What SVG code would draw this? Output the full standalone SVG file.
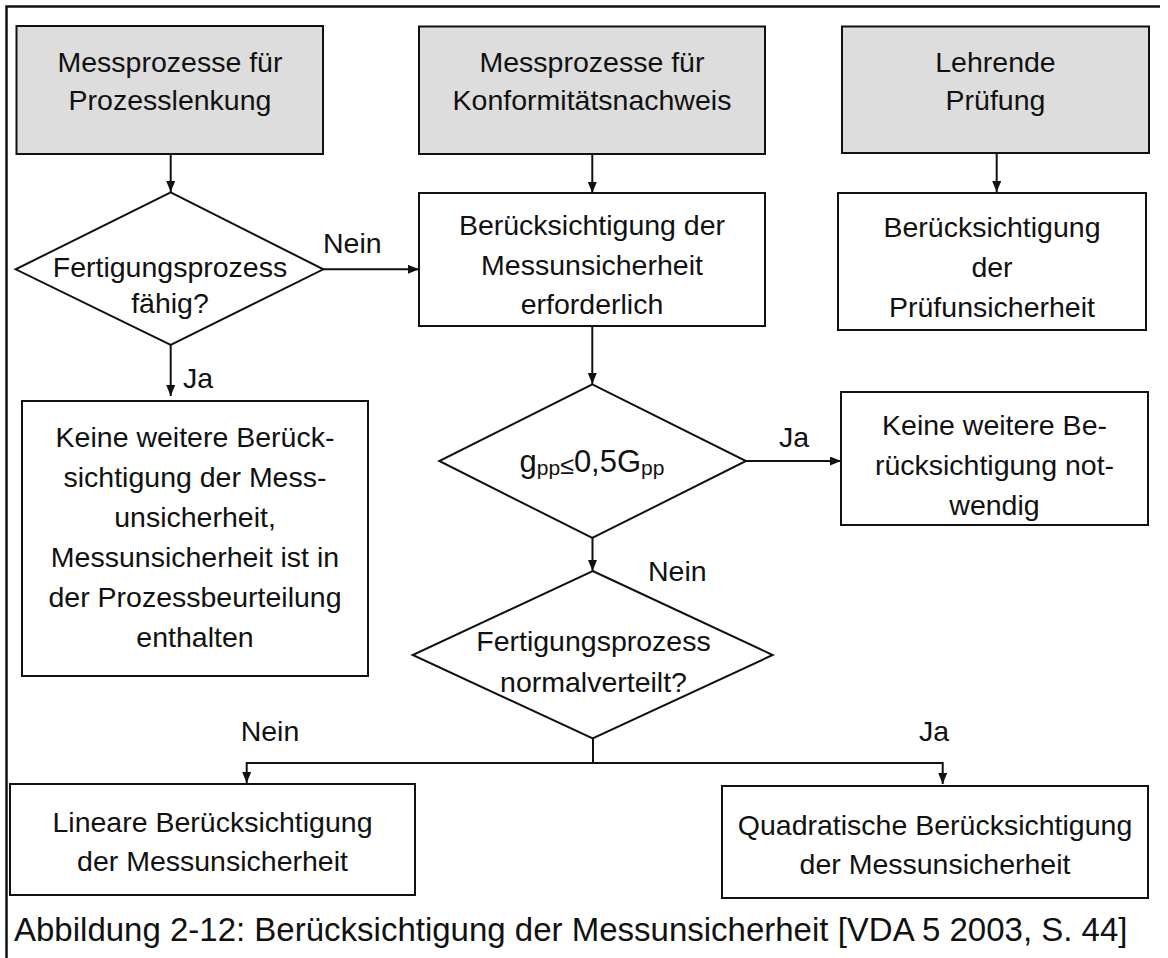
<svg xmlns="http://www.w3.org/2000/svg" width="1168" height="958" viewBox="0 0 1168 958">
  <style>
    .box { fill: #ffffff; stroke: #111; stroke-width: 2; }
    .start { fill: #dddddd; stroke: #111; stroke-width: 2; }
    .dec { fill: #ffffff; stroke: #111; stroke-width: 2; }
    .t { font-family: "Liberation Sans", Arial, sans-serif; font-size: 28.5px; fill: #111; text-anchor: middle; }
    .lbl { font-family: "Liberation Sans", Arial, sans-serif; font-size: 28.5px; fill: #111; }
    .cap { font-family: "Liberation Sans", Arial, sans-serif; font-size: 33px; fill: #111; }
    .edge { fill: none; stroke: #111; stroke-width: 2; }
    .arr { marker-end: url(#head); }
    .sub { font-size: 21px; }
  </style>
  <defs>
    <marker id="head" markerUnits="userSpaceOnUse" markerWidth="12" markerHeight="10" refX="11" refY="4.5" orient="auto">
      <path d="M0,0 L11,4.5 L0,9 z" fill="#111"/>
    </marker>
  </defs>

  <rect width="1168" height="958" fill="#ffffff"/>
  <!-- figure frame: top and left rule -->
  <path d="M6.5,958 V6.5 H1160" fill="none" stroke="#111" stroke-width="2.5"/>

  <g id="connectors">
    <path class="edge arr" d="M170.7,154 V192"/>
    <path class="edge arr" d="M592.3,154 V193"/>
    <path class="edge arr" d="M996.7,153 V192"/>
    <path class="edge arr" d="M323,269.3 H419"/>
    <path class="edge arr" d="M170.7,345 V396"/>
    <path class="edge arr" d="M592.3,326 V384"/>
    <path class="edge arr" d="M746,461 H841"/>
    <path class="edge arr" d="M592.5,538 V571"/>
    <path class="edge" d="M593,739 V763 M246.7,763 H942.7"/>
    <path class="edge arr" d="M246.7,762 V783"/>
    <path class="edge arr" d="M942.7,762 V784"/>
  </g>

  <g id="labels">
    <text class="lbl" x="323" y="253">Nein</text>
    <text class="lbl" x="183" y="388">Ja</text>
    <text class="lbl" x="779" y="447">Ja</text>
    <text class="lbl" x="648" y="581">Nein</text>
    <text class="lbl" x="270" y="741" text-anchor="middle">Nein</text>
    <text class="lbl" x="934" y="741" text-anchor="middle">Ja</text>
  </g>

  <g id="mess-prozesslenkung">
    <rect class="start" x="16.5" y="26" width="306.5" height="128"/>
    <text class="t" x="170" y="72">Messprozesse für</text>
    <text class="t" x="170" y="110">Prozesslenkung</text>
  </g>

  <g id="mess-konformitaet">
    <rect class="start" x="419" y="26.5" width="346" height="127.5"/>
    <text class="t" x="592" y="72">Messprozesse für</text>
    <text class="t" x="592" y="110">Konformitätsnachweis</text>
  </g>

  <g id="lehrende-pruefung">
    <rect class="start" x="842" y="26.5" width="307" height="126.5"/>
    <text class="t" x="995.5" y="72">Lehrende</text>
    <text class="t" x="995.5" y="110">Prüfung</text>
  </g>

  <g id="fertigung-faehig">
    <polygon class="dec" points="170.7,192.3 323.3,269.3 170.7,345 15.7,269.3"/>
    <text class="t" x="170" y="277">Fertigungsprozess</text>
    <text class="t" x="170" y="313">fähig?</text>
  </g>

  <g id="mu-erforderlich">
    <rect class="box" x="419" y="193" width="346" height="133"/>
    <text class="t" x="592" y="235">Berücksichtigung der</text>
    <text class="t" x="592" y="275">Messunsicherheit</text>
    <text class="t" x="592" y="314">erforderlich</text>
  </g>

  <g id="pruefunsicherheit">
    <rect class="box" x="838" y="193" width="308" height="137"/>
    <text class="t" x="992" y="237">Berücksichtigung</text>
    <text class="t" x="992" y="277">der</text>
    <text class="t" x="992" y="317">Prüfunsicherheit</text>
  </g>

  <g id="keine-weitere-links">
    <rect class="box" x="22" y="401" width="346" height="275"/>
    <text class="t" x="195" y="447">Keine weitere Berück-</text>
    <text class="t" x="195" y="487">sichtigung der Mess-</text>
    <text class="t" x="195" y="527">unsicherheit,</text>
    <text class="t" x="195" y="567">Messunsicherheit ist in</text>
    <text class="t" x="195" y="607">der Prozessbeurteilung</text>
    <text class="t" x="195" y="647">enthalten</text>
  </g>

  <g id="gpp-pruefung">
    <polygon class="dec" points="592.3,384.3 746,461 592.3,538 439.3,461"/>
    <text class="t" x="592" y="472" style="font-size:31px">g<tspan class="sub" dy="3">pp</tspan><tspan style="font-size:25px" dy="-1">≤</tspan><tspan dy="-2">0,5G</tspan><tspan class="sub" dy="3">pp</tspan></text>
  </g>

  <g id="keine-weitere-rechts">
    <rect class="box" x="841" y="392" width="307" height="133"/>
    <text class="t" x="994.5" y="435">Keine weitere Be-</text>
    <text class="t" x="994.5" y="475">rücksichtigung not-</text>
    <text class="t" x="994.5" y="515">wendig</text>
  </g>

  <g id="normalverteilt">
    <polygon class="dec" points="592.7,571 772.7,655 592.7,738.5 412.7,655"/>
    <text class="t" x="593.5" y="651">Fertigungsprozess</text>
    <text class="t" x="593.5" y="692">normalverteilt?</text>
  </g>

  <g id="linear">
    <rect class="box" x="10" y="784" width="405" height="111"/>
    <text class="t" x="212.5" y="832">Lineare Berücksichtigung</text>
    <text class="t" x="212.5" y="871">der Messunsicherheit</text>
  </g>

  <g id="quadratisch">
    <rect class="box" x="722" y="786" width="426" height="112"/>
    <text class="t" x="935" y="835">Quadratische Berücksichtigung</text>
    <text class="t" x="935" y="874">der Messunsicherheit</text>
  </g>

  <text class="cap" x="14" y="941">Abbildung 2-12: Berücksichtigung der Messunsicherheit [VDA 5 2003, S. 44]</text>
</svg>
